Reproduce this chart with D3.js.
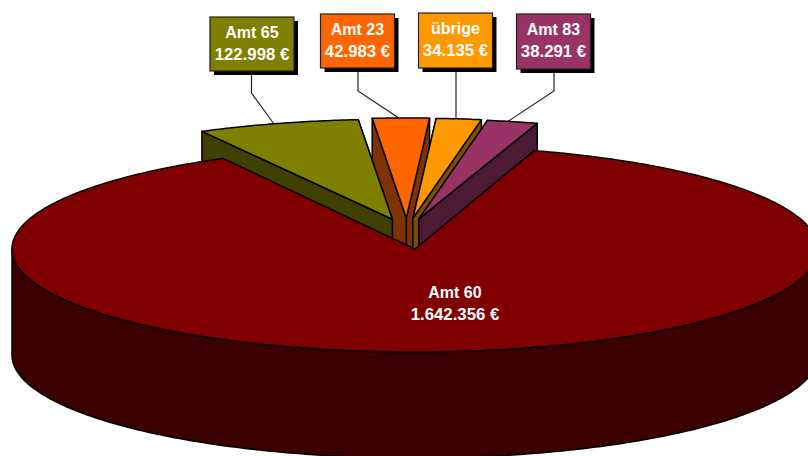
<!DOCTYPE html>
<html lang="de">
<head>
<meta charset="utf-8">
<script src="https://cdn.jsdelivr.net/npm/d3@7"></script>
<style>
html,body{margin:0;padding:0;background:#fff;overflow:hidden}
svg{display:block}
text{font-family:"Liberation Sans",Arial,sans-serif;font-weight:700;fill:#fff;text-anchor:middle}
</style>
</head>
<body>
<svg id="c" width="808" height="456"></svg>
<script>
const categories = ["Amt 60", "Amt 65", "Amt 23", "übrige", "Amt 83"];
const amounts = [1642356, 122998, 42983, 34135, 38291];
const topColors = ["#800000", "#808000", "#ff6600", "#ff9900", "#993366"];
const wallColors = ["#3c0000", "#404000", "#803300", "#804c00", "#4d1a33"];
const drawOrder = [2, 3, 1, 4, 0];

const W = 808, H = 456;
const rad = d3.scaleLinear().domain([0, 360]).range([0, 2 * Math.PI]);
const main = {cx: 415, cy: 249, rx: 403, ry: 103};
const slice = {rx: 400, ry: 100};
const depth = 106;
const explode = {sx: 51, shift: -8, sy: 31};
const nameSize = 16, valueSize = 16.8;

const labelBoxes = [
  null,
  {x: 210, y: 17, w: 84, h: 54, lx: 251.5, ey: 93, adj: -4},
  {x: 320.5, y: 14, w: 74, h: 54, lx: 358, ey: 91, adj: -2},
  {x: 418.5, y: 13, w: 74, h: 55, lx: 456, ey: null, adj: 0},
  {x: 516.5, y: 14, w: 74, h: 55, lx: 554, ey: 91, adj: -5}
];

const de = d3.formatLocale({decimal: ",", thousands: ".", grouping: [3], currency: ["", " €"]});
const fmt = v => de.format(",")(v) + " €";

const pie = d3.pie().sort(null).startAngle(rad(17.2)).endAngle(rad(377.2));
const arcs = pie(amounts);

const svg = d3.select("#c");
const line = d3.line();

function geom(i) {
  if (i === 0) return main;
  const mid = (arcs[i].startAngle + arcs[i].endAngle) / 2;
  return {
    cx: main.cx + explode.shift + explode.sx * Math.sin(mid),
    cy: main.cy - explode.sy * Math.cos(mid),
    rx: slice.rx, ry: slice.ry
  };
}
const pt = (g, a, dy = 0) => [g.cx + g.rx * Math.sin(a), g.cy - g.ry * Math.cos(a) + dy];

function arcPts(g, a0, a1, dy = 0) {
  const n = Math.max(2, Math.ceil(Math.abs(a1 - a0) / 0.01));
  return d3.range(n + 1).map(k => pt(g, a0 + (a1 - a0) * k / n, dy));
}

const drawShape = (pts, fill) => svg.append("path")
  .attr("d", line(pts) + "Z")
  .attr("fill", fill).attr("stroke", "#000").attr("stroke-width", 1.5)
  .attr("stroke-linejoin", "round");

// leaders
categories.forEach((c, i) => {
  const b = labelBoxes[i];
  if (!b) return;
  const g = geom(i), mid = (arcs[i].startAngle + arcs[i].endAngle) / 2;
  const e = pt(g, mid); e[0] += b.adj;
  const pts = [[b.lx, b.y + b.h]];
  if (b.ey !== null) pts.push([b.lx, b.ey]);
  pts.push(b.ey === null ? [b.lx, e[1]] : e);
  svg.append("path").attr("d", line(pts)).attr("fill", "none")
    .attr("stroke", "#222").attr("stroke-width", 1.2);
});

drawOrder.forEach(i => {
  const g = geom(i), a0 = arcs[i].startAngle, a1 = arcs[i].endAngle;
  const apex = [g.cx, g.cy];
  const apexLow = [g.cx, g.cy + depth];
  if (i === 0) {
    const rim = arcPts(g, rad(90), rad(270));
    const rimLow = arcPts(g, rad(270), rad(90), depth);
    drawShape(rim.concat(rimLow), wallColors[i]);
  } else {
    // the wall further out to the side sits in front of the other one
    [a0, a1].sort((p, q) => Math.abs(Math.sin(p)) - Math.abs(Math.sin(q)))
      .forEach(a => drawShape([pt(g, a), apex, apexLow, pt(g, a, depth)], wallColors[i]));
  }
  drawShape([apex].concat(arcPts(g, a0, a1)), topColors[i]);
});

// labels
categories.forEach((c, i) => {
  const b = labelBoxes[i];
  if (!b) {
    svg.append("text").attr("x", 455).attr("y", 298).attr("font-size", nameSize).text(c);
    svg.append("text").attr("x", 455).attr("y", 320).attr("font-size", valueSize).text(fmt(amounts[i]));
    return;
  }
  svg.append("rect").attr("x", b.x + 4).attr("y", b.y + 4).attr("width", b.w).attr("height", b.h).attr("fill", "#000");
  svg.append("rect").attr("x", b.x).attr("y", b.y).attr("width", b.w).attr("height", b.h)
    .attr("fill", topColors[i]).attr("stroke", "#222").attr("stroke-width", 1.2);
  svg.append("text").attr("x", b.x + b.w / 2).attr("y", b.y + 21).attr("font-size", nameSize).text(c);
  svg.append("text").attr("x", b.x + b.w / 2).attr("y", b.y + 43).attr("font-size", valueSize).text(fmt(amounts[i]));
});
</script>
</body>
</html>
